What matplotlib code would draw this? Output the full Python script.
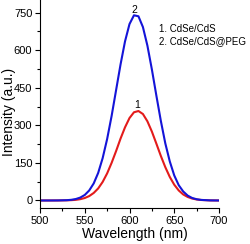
import matplotlib
matplotlib.use("Agg")
import matplotlib.pyplot as plt
from matplotlib.ticker import MultipleLocator

plt.rcParams['font.family'] = ['Liberation Sans', 'DejaVu Sans']

wavelength = [500, 510, 520, 530, 535, 540, 545, 550, 555, 560, 565, 570, 575, 580,
              585, 590, 595, 600, 605, 610, 615, 620, 625, 630, 635, 640, 645, 650,
              655, 660, 665, 670, 675, 680, 690, 700]
cdse_cds = [0, 0, 0.1, 0.6, 1.3, 2.6, 5.2, 9.8, 17.6, 30, 48, 74, 108, 150,
            197, 247, 292, 329, 352, 357, 345, 316, 275, 227, 178, 133, 94, 63,
            40, 24, 14, 7.7, 4, 2, 0.3, 0]
cdse_cds_peg = [0, 0, 0.2, 1.2, 2.7, 5.8, 11.6, 22, 40, 68, 110, 169, 245, 337,
                440, 543, 635, 704, 739, 735, 692, 618, 523, 419, 318, 228, 156, 100,
                61, 36, 19.5, 10, 5, 2.3, 0.4, 0]
peak_labels = ["1", "2"]
legend_lines = ["1. CdSe/CdS", "2. CdSe/CdS@PEG"]

fig = plt.figure(figsize=(2.51, 2.44), dpi=100)
ax = fig.add_axes([40/251, 1-208/244, 179/251, 208/244])

red = '#E31B1B'
blue = '#1414D8'
ax.plot(wavelength, cdse_cds, color=red, lw=1.5)
ax.plot(wavelength, cdse_cds_peg, color=blue, lw=1.5)

ax.set_xlim(500, 700)
ax.set_ylim(-30, 800)

ax.xaxis.set_major_locator(MultipleLocator(50))
ax.xaxis.set_minor_locator(MultipleLocator(25))
ax.yaxis.set_major_locator(MultipleLocator(150))
ax.yaxis.set_minor_locator(MultipleLocator(75))
ax.tick_params(which='major', direction='out', length=3.5, width=0.8, labelsize=8, pad=2)
ax.tick_params(which='minor', direction='out', length=2, width=0.8)

for s in ['top', 'right']:
    ax.spines[s].set_visible(False)
for s in ['left', 'bottom']:
    ax.spines[s].set_linewidth(0.8)

xl = ax.set_xlabel("Wavelength (nm)", fontsize=10)
yl = ax.set_ylabel("Intensity (a.u.)", fontsize=10)
ax.xaxis.set_label_coords(0.53, -0.123)
xl.set_va('center')
ax.yaxis.set_label_coords(-0.175, 0.464)
yl.set_va('center')

i_red = cdse_cds.index(max(cdse_cds))
i_blue = cdse_cds_peg.index(max(cdse_cds_peg))
ax.text(wavelength[i_red] - 1, max(cdse_cds) + 5, peak_labels[0], ha='center', va='bottom', fontsize=7.5)
ax.text(wavelength[i_blue] + 1, max(cdse_cds_peg) + 3, peak_labels[1], ha='center', va='bottom', fontsize=7.5)

ax.text(633, 686, legend_lines[0], ha='left', va='center', fontsize=7)
ax.text(633, 634, legend_lines[1], ha='left', va='center', fontsize=7)

fig.savefig("out.png", dpi=100)
